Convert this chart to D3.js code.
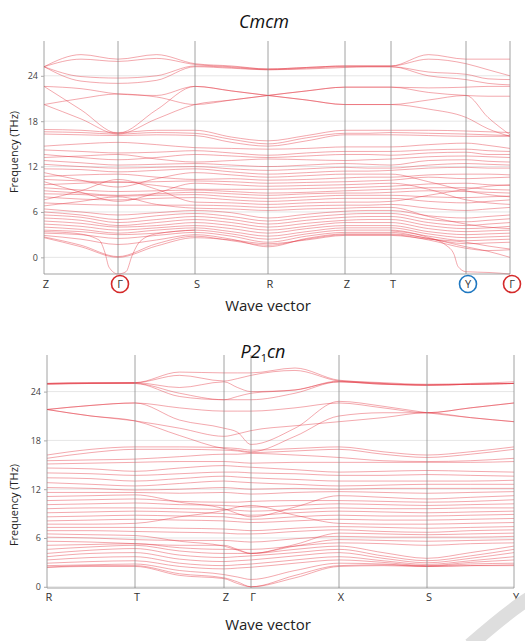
<!DOCTYPE html>
<html>
<head>
<meta charset="utf-8">
<script src="https://cdn.jsdelivr.net/npm/d3@7"></script>
<style>
body { margin: 0; background: #fff; font-family: "Open Sans", "Noto Sans", sans-serif; }
</style>
</head>
<body>
<div id="vis"></div>
<script>
var yTicks = [0, 6, 12, 18, 24];

// ---- Cmcm (top) ----
var kLabelsTop = ["Z", "Γ", "S", "R", "Z", "T", "Y", "Γ"];
var kPosTop = [0, 74, 151, 224, 301, 347, 422, 466];
// values at each k-point and at the middle of each segment
var bandsTop = [
    [25.2, 26.8, 26.2, 26.8, 25.6, 25.3, 24.9, 25.1, 25.3, 25.3, 25.3, 26.8, 26.2, 26.2, 26.2],
    [25.2, 26.2, 25.9, 26.3, 25.5, 25.2, 24.9, 25.1, 25.3, 25.3, 25.3, 26.2, 25.6, 24.8, 24.0],
    [25.2, 23.9, 23.7, 24.0, 25.3, 25.1, 24.8, 25.0, 25.2, 25.2, 25.2, 24.5, 24.2, 23.6, 23.5],
    [25.2, 23.3, 23.0, 23.4, 25.2, 25.0, 24.8, 24.9, 25.1, 25.2, 25.2, 24.0, 23.5, 23.0, 22.8],
    [22.6, 22.3, 21.6, 21.4, 22.6, 22.0, 21.4, 20.8, 20.2, 20.2, 20.2, 19.6, 18.5, 17.0, 16.0],
    [20.2, 21.0, 21.6, 21.2, 20.2, 20.8, 21.4, 22.0, 22.5, 22.5, 22.5, 21.8, 21.4, 21.3, 21.3],
    [22.6, 19.5, 16.4, 19.5, 22.6, 22.0, 21.4, 20.8, 20.2, 20.2, 20.2, 20.8, 21.4, 18.5, 16.2],
    [20.2, 18.3, 16.3, 18.3, 20.2, 20.8, 21.4, 22.0, 22.5, 22.5, 22.5, 22.4, 22.5, 22.6, 22.6],
    [16.9, 16.8, 16.5, 16.8, 16.8, 15.9, 15.4, 16.1, 16.8, 16.8, 16.8, 16.8, 16.7, 16.6, 16.5],
    [16.6, 16.5, 16.3, 16.5, 16.4, 15.6, 15.0, 15.8, 16.4, 16.4, 16.5, 16.4, 16.3, 16.2, 16.1],
    [16.3, 16.2, 16.1, 16.2, 16.1, 15.2, 14.7, 15.4, 16.2, 16.2, 16.2, 16.1, 16.0, 16.0, 16.0],
    [14.7, 15.0, 15.2, 14.9, 14.5, 14.4, 14.3, 14.4, 14.6, 14.6, 14.6, 14.9, 15.1, 14.8, 14.4],
    [14.2, 14.0, 13.8, 13.9, 14.1, 13.8, 13.5, 13.8, 14.0, 14.0, 14.0, 14.2, 14.3, 14.1, 14.0],
    [13.6, 13.2, 12.9, 13.2, 13.6, 13.4, 13.2, 13.4, 13.6, 13.6, 13.5, 13.8, 13.9, 13.6, 13.6],
    [13.2, 13.4, 13.6, 13.0, 12.6, 12.8, 13.0, 12.9, 12.8, 12.9, 13.0, 13.3, 13.4, 13.3, 13.2],
    [12.8, 12.5, 12.2, 12.3, 12.4, 12.2, 12.0, 12.2, 12.4, 12.3, 12.2, 12.8, 12.9, 12.7, 12.6],
    [12.3, 12.0, 11.8, 11.9, 12.0, 11.7, 11.5, 11.7, 11.9, 11.8, 11.8, 12.2, 12.4, 12.3, 12.2],
    [11.7, 11.6, 11.3, 11.5, 11.7, 11.3, 11.0, 11.2, 11.4, 11.4, 11.5, 11.8, 11.9, 11.8, 11.8],
    [11.2, 10.2, 9.3, 10.4, 11.2, 10.9, 10.6, 10.8, 11.0, 11.0, 11.0, 10.0, 8.8, 8.3, 8.0],
    [10.7, 10.9, 11.0, 10.6, 10.3, 10.4, 10.2, 10.3, 10.5, 10.6, 10.6, 10.9, 11.0, 11.0, 10.9],
    [10.3, 10.1, 9.9, 10.0, 10.1, 10.0, 9.8, 9.9, 10.0, 10.1, 10.2, 10.6, 10.4, 10.5, 10.6],
    [10.0, 8.6, 7.4, 8.5, 9.8, 9.6, 9.4, 9.5, 9.6, 9.7, 9.8, 9.0, 7.6, 7.2, 7.0],
    [9.6, 9.8, 10.0, 9.5, 9.0, 9.0, 9.0, 9.1, 9.2, 9.3, 9.4, 9.7, 9.8, 9.6, 9.5],
    [9.2, 8.9, 8.7, 8.8, 8.9, 8.7, 8.5, 8.6, 8.8, 8.9, 9.0, 9.2, 9.2, 9.0, 8.9],
    [8.8, 8.5, 8.2, 8.4, 8.6, 8.4, 8.2, 8.4, 8.5, 8.5, 8.6, 8.8, 8.7, 8.6, 8.5],
    [8.4, 8.3, 8.1, 8.2, 8.3, 8.0, 7.8, 8.0, 8.2, 8.2, 8.2, 8.0, 7.9, 8.0, 8.1],
    [8.0, 7.7, 7.6, 7.8, 7.9, 7.6, 7.4, 7.6, 7.8, 7.8, 7.8, 7.4, 7.2, 7.4, 7.6],
    [7.6, 8.8, 10.3, 9.0, 7.3, 7.2, 7.0, 7.2, 7.3, 7.3, 7.4, 8.2, 9.0, 9.4, 9.6],
    [7.2, 7.0, 6.9, 6.9, 6.9, 6.8, 6.6, 6.8, 6.9, 6.9, 7.0, 6.5, 6.2, 6.4, 6.6],
    [6.8, 7.4, 8.0, 7.0, 6.5, 6.4, 6.2, 6.4, 6.5, 6.6, 6.6, 5.4, 4.4, 4.0, 3.8],
    [6.4, 6.0, 5.6, 5.9, 6.2, 5.9, 5.2, 5.7, 6.1, 6.2, 6.2, 5.5, 5.2, 5.4, 5.6],
    [6.0, 5.6, 5.0, 5.5, 5.8, 5.4, 4.8, 5.3, 5.7, 5.8, 5.8, 5.0, 4.7, 4.9, 5.1],
    [5.6, 5.3, 4.6, 5.0, 5.4, 5.0, 4.4, 4.9, 5.3, 5.4, 5.4, 4.6, 4.2, 4.4, 4.6],
    [5.2, 4.9, 4.2, 4.6, 5.0, 4.6, 4.0, 4.5, 4.9, 5.0, 5.0, 4.2, 3.8, 3.9, 4.1],
    [4.8, 4.5, 4.0, 4.2, 4.6, 4.2, 3.6, 4.1, 4.6, 4.6, 4.6, 3.8, 3.4, 3.5, 3.6],
    [4.4, 4.1, 3.6, 3.9, 4.2, 3.8, 3.2, 3.8, 4.2, 4.2, 4.2, 3.4, 3.0, 3.1, 3.2],
    [4.0, 3.7, 3.2, 3.6, 3.9, 3.4, 2.8, 3.4, 3.9, 3.9, 3.9, 3.1, 2.6, 2.7, 2.8],
    [3.6, 3.4, 3.0, 3.2, 3.6, 3.1, 2.4, 3.1, 3.6, 3.6, 3.6, 2.8, 2.2, 2.3, 2.4],
    [3.2, 3.0, 2.5, 2.9, 3.3, 2.8, 2.0, 2.8, 3.3, 3.3, 3.3, 2.5, 1.8, 1.9, 2.0],
    [2.9, 2.4, 1.7, 2.3, 3.0, 2.4, 1.4, 2.5, 3.1, 3.1, 3.1, 2.5, 1.4, 0.8, 0.0],
    [2.7, 1.6, 0.1, 1.8, 2.8, 2.2, 1.6, 2.4, 3.0, 3.0, 3.0, 2.3, 1.2, 0.9, 1.0],
    [2.6, 1.4, 0.0, 1.5, 2.6, 2.3, 1.8, 2.3, 2.9, 2.9, 2.9, 2.4, 2.0, 1.5, 1.1]
];
// imaginary (soft) modes: [k, frequency]
var softTopGamma = [[0, 3.4], [30, 3.2], [55, 2.3], [61, 0.6], [65, -1.3], [74, -2.2], [82, -1.9], [88, 0.2], [96, 2.1], [112, 3.1], [151, 3.6]];
var softTopY = [[347, 3.5], [380, 2.8], [402, 1.6], [410, 0.4], [414, -1.2], [422, -1.9], [445, -2.0], [466, -2.2]];

// ---- P2_1cn (bottom) ----
var kLabelsBot = ["R", "T", "Z", "Γ", "X", "S", "Y"];
var kPosBot = [0, 88, 177, 204, 292, 380, 467];
var bandsBot = [
    [25.0, 25.1, 25.1, 26.4, 26.3, 26.3, 26.3, 26.9, 25.4, 25.1, 24.9, 25.0, 25.2],
    [25.0, 25.1, 25.1, 26.0, 25.3, 25.6, 26.0, 26.6, 25.3, 25.0, 24.8, 24.9, 25.0],
    [25.0, 25.0, 25.1, 24.5, 25.2, 24.5, 24.0, 24.2, 25.3, 25.0, 24.8, 24.9, 25.0],
    [24.9, 25.0, 25.0, 23.8, 23.0, 23.4, 23.8, 24.2, 25.2, 24.9, 24.8, 24.9, 25.0],
    [24.9, 25.0, 25.0, 23.4, 23.0, 23.0, 23.0, 23.8, 25.2, 24.9, 24.8, 24.9, 25.0],
    [21.8, 22.3, 22.6, 22.0, 21.6, 21.6, 21.6, 22.0, 22.6, 22.0, 21.4, 22.0, 22.6],
    [21.8, 21.0, 20.4, 19.5, 18.5, 18.8, 19.2, 19.8, 20.3, 20.8, 21.4, 20.8, 20.3],
    [21.8, 22.3, 22.6, 20.5, 19.5, 19.0, 17.5, 19.5, 22.8, 22.2, 21.4, 20.8, 20.3],
    [21.8, 21.0, 20.4, 18.6, 17.0, 16.8, 16.6, 18.5, 21.0, 21.4, 21.4, 22.0, 22.6],
    [16.2, 16.9, 17.2, 17.2, 17.1, 17.0, 16.8, 17.0, 17.2, 16.6, 16.2, 16.6, 17.2],
    [15.8, 16.5, 16.9, 16.9, 16.8, 16.7, 16.5, 16.7, 16.9, 16.3, 15.9, 16.3, 16.9],
    [15.5, 15.6, 15.7, 16.0, 16.3, 16.3, 16.4, 16.2, 15.9, 15.5, 15.4, 15.5, 15.8],
    [15.1, 15.2, 15.3, 15.4, 15.4, 15.3, 15.2, 15.3, 15.3, 15.3, 15.3, 15.3, 15.4],
    [14.6, 14.5, 14.2, 14.6, 14.9, 14.8, 14.7, 14.4, 14.1, 14.2, 14.3, 14.2, 14.1],
    [14.0, 13.9, 13.7, 13.9, 14.1, 14.1, 14.0, 13.9, 13.7, 13.7, 13.8, 13.7, 13.6],
    [13.4, 13.3, 13.0, 13.3, 13.6, 13.5, 13.4, 13.2, 13.0, 13.0, 13.0, 13.0, 13.1],
    [12.8, 12.6, 12.4, 12.7, 13.0, 12.9, 12.8, 12.6, 12.4, 12.5, 12.6, 12.6, 12.6],
    [12.2, 12.1, 11.9, 12.0, 12.2, 12.1, 12.0, 12.1, 12.0, 12.1, 12.1, 12.1, 12.1],
    [11.6, 11.6, 11.6, 11.5, 11.6, 11.5, 11.4, 11.6, 11.7, 11.6, 11.5, 11.6, 11.7],
    [11.1, 11.2, 11.3, 10.4, 9.6, 9.0, 8.6, 9.8, 11.2, 11.0, 10.8, 11.0, 11.2],
    [10.6, 10.7, 10.8, 10.5, 10.4, 10.4, 10.5, 10.6, 10.6, 10.5, 10.4, 10.5, 10.7],
    [10.1, 10.2, 10.3, 10.1, 10.0, 9.9, 9.8, 10.0, 10.2, 10.1, 10.0, 10.1, 10.2],
    [9.6, 9.7, 9.7, 9.6, 9.5, 9.4, 9.3, 9.5, 9.7, 9.6, 9.6, 9.7, 9.7],
    [9.1, 9.2, 9.3, 9.2, 9.0, 8.9, 8.8, 9.1, 9.3, 9.2, 9.1, 9.2, 9.3],
    [8.6, 8.7, 8.8, 8.7, 8.6, 8.4, 8.3, 8.6, 8.8, 8.7, 8.7, 8.8, 8.9],
    [8.1, 8.2, 8.3, 8.2, 8.1, 8.0, 7.9, 8.1, 8.3, 8.2, 8.2, 8.3, 8.4],
    [7.7, 7.7, 7.8, 8.6, 9.4, 9.8, 10.0, 8.8, 7.8, 7.7, 7.7, 7.8, 7.9],
    [7.3, 7.3, 7.3, 7.2, 7.1, 7.0, 6.9, 7.2, 7.4, 7.3, 7.2, 7.3, 7.4],
    [6.9, 6.9, 6.8, 6.7, 6.6, 6.5, 6.5, 6.8, 7.0, 6.8, 6.7, 6.9, 7.0],
    [6.5, 6.4, 6.3, 5.6, 5.0, 4.5, 4.1, 5.2, 6.6, 6.5, 6.4, 6.5, 6.6],
    [6.1, 6.0, 5.8, 5.7, 5.7, 5.6, 5.5, 5.9, 6.2, 6.1, 6.1, 6.1, 6.2],
    [5.6, 5.5, 5.3, 5.1, 5.1, 4.6, 4.1, 5.0, 5.8, 5.7, 5.6, 5.7, 5.8],
    [5.1, 5.2, 5.3, 4.8, 4.6, 4.6, 4.6, 5.0, 5.4, 5.3, 5.1, 5.3, 5.4],
    [4.6, 4.9, 5.1, 4.4, 4.1, 4.1, 4.1, 4.6, 5.0, 4.2, 3.5, 4.2, 5.0],
    [4.1, 4.5, 4.7, 3.9, 3.6, 3.7, 3.8, 4.2, 4.6, 3.8, 3.2, 3.8, 4.6],
    [3.7, 4.1, 4.2, 3.4, 3.1, 3.2, 3.3, 3.8, 4.2, 3.5, 2.95, 3.5, 4.2],
    [3.3, 3.6, 3.7, 2.9, 2.6, 2.7, 2.8, 3.3, 3.7, 3.2, 2.75, 3.2, 3.7],
    [2.9, 3.1, 3.2, 2.5, 2.2, 2.3, 2.4, 2.9, 3.3, 3.0, 2.6, 3.0, 3.3],
    [2.6, 2.7, 2.8, 2.0, 1.5, 1.2, 0.9, 2.0, 2.9, 2.8, 2.55, 2.8, 2.9],
    [2.4, 2.6, 2.6, 1.6, 1.1, 0.6, 0.0, 1.4, 2.6, 2.7, 2.5, 2.6, 2.7],
    [2.4, 2.5, 2.5, 1.4, 1.0, 0.4, 0.0, 1.1, 2.5, 2.6, 2.5, 2.6, 2.6]
];

var W = 525, H = 641;
var svg = d3.select("#vis").append("svg")
    .attr("width", W)
    .attr("height", H);

// k-points plus segment midpoints
function samplePositions(kPos) {
    var out = [];
    for (var i = 0; i < kPos.length - 1; i++) {
        out.push(kPos[i]);
        out.push((kPos[i] + kPos[i + 1]) / 2);
    }
    out.push(kPos[kPos.length - 1]);
    return out;
}

function drawPanel(p) {
    var x = d3.scaleLinear()
        .domain([0, p.kPos[p.kPos.length - 1]])
        .range([p.left, p.right]);
    var y = d3.scaleLinear()
        .domain(p.yDomain)
        .range([p.bottom, p.top]);

    var g = svg.append("g");

    // light grid at tick values
    g.selectAll(".grid")
        .data(yTicks)
        .enter()
        .append("line")
        .attr("x1", p.left).attr("x2", p.right)
        .attr("y1", function (d) { return y(d); })
        .attr("y2", function (d) { return y(d); })
        .attr("stroke", "#e6e6e6")
        .attr("stroke-width", 1);

    var pos = samplePositions(p.kPos);
    var line = d3.line()
        .x(function (d) { return x(d[0]); })
        .y(function (d) { return y(d[1]); })
        .curve(d3.curveMonotoneX);

    var paths = p.bands.map(function (b) {
        return b.map(function (v, i) { return [pos[i], v]; });
    }).concat(p.soft);

    g.selectAll(".band")
        .data(paths)
        .enter()
        .append("path")
        .attr("class", "band")
        .attr("d", line)
        .attr("fill", "none")
        .attr("stroke", "#e3343f")
        .attr("stroke-opacity", 0.5)
        .attr("stroke-width", 0.85);

    // high-symmetry lines
    g.selectAll(".kline")
        .data(p.kPos)
        .enter()
        .append("line")
        .attr("x1", function (d) { return x(d); })
        .attr("x2", function (d) { return x(d); })
        .attr("y1", p.top)
        .attr("y2", p.bottom)
        .attr("stroke", "#8c8c8c")
        .attr("stroke-width", 0.8);

    g.append("line")
        .attr("x1", p.left).attr("x2", p.right)
        .attr("y1", p.bottom).attr("y2", p.bottom)
        .attr("stroke", "#8c8c8c")
        .attr("stroke-width", 0.8);

    // y axis
    var yAxis = d3.axisLeft(y).tickValues(yTicks).tickSize(3).tickPadding(3);
    var ga = g.append("g")
        .attr("transform", "translate(" + p.left + ",0)")
        .call(yAxis);
    ga.select(".domain").remove();
    ga.selectAll(".tick line").attr("stroke", "#aaa");
    ga.selectAll("text")
        .attr("fill", "#444")
        .style("font-size", "9px")
        .style("font-family", "Open Sans, sans-serif");

    // k labels
    g.selectAll(".klab")
        .data(p.kLabels)
        .enter()
        .append("text")
        .attr("x", function (d, i) { return x(p.kPos[i]) + 2; })
        .attr("y", p.labelY)
        .attr("text-anchor", "middle")
        .attr("fill", "#333")
        .style("font-size", "11px")
        .text(function (d) { return d; });

    // circled labels
    (p.circles || []).forEach(function (c) {
        g.append("circle")
            .attr("cx", x(p.kPos[c.i]) + 2)
            .attr("cy", p.labelY - 4)
            .attr("r", 8.5)
            .attr("fill", "none")
            .attr("stroke", c.color)
            .attr("stroke-width", 1.6);
    });

    g.append("text")
        .attr("x", 268)
        .attr("y", p.xTitleY)
        .attr("text-anchor", "middle")
        .attr("fill", "#222")
        .style("font-size", "15px")
        .text("Wave vector");

    g.append("text")
        .attr("transform", "translate(18," + p.yTitleY + ") rotate(-90)")
        .attr("text-anchor", "middle")
        .attr("fill", "#222")
        .style("font-size", "11px")
        .text("Frequency (THz)");

    return g;
}

drawPanel({
    kPos: kPosTop, kLabels: kLabelsTop, bands: bandsTop,
    soft: [softTopGamma, softTopY],
    left: 44, right: 510, top: 41, bottom: 274,
    yDomain: [-2.2, 28.6],
    labelY: 288, xTitleY: 311, yTitleY: 152,
    circles: [{ i: 1, color: "#d42a2a" }, { i: 6, color: "#1f78c1" }, { i: 7, color: "#d42a2a" }]
});

drawPanel({
    kPos: kPosBot, kLabels: kLabelsBot, bands: bandsBot,
    soft: [],
    left: 47, right: 514, top: 355, bottom: 588,
    yDomain: [-0.15, 28.5],
    labelY: 601, xTitleY: 630, yTitleY: 505
});

// titles
svg.append("text")
    .attr("x", 264).attr("y", 28)
    .attr("text-anchor", "middle")
    .attr("fill", "#111")
    .style("font-size", "18px")
    .style("font-style", "italic")
    .text("Cmcm");

var t2 = svg.append("text")
    .attr("x", 263).attr("y", 358)
    .attr("text-anchor", "middle")
    .attr("fill", "#111")
    .style("font-size", "18px")
    .style("font-style", "italic");
t2.append("tspan").text("P2");
t2.append("tspan").attr("dy", 4).style("font-size", "11px").style("font-style", "normal").text("1");
t2.append("tspan").attr("dy", -4).text("cn");

// grey corner mark
svg.append("path")
    .attr("d", "M470,645 Q510,610 530,598")
    .attr("fill", "none")
    .attr("stroke", "#dedede")
    .attr("stroke-width", 14);
</script>
</body>
</html>
